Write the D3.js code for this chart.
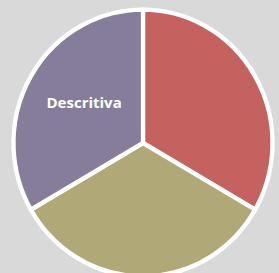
<!DOCTYPE html>
<html>
<head>
<meta charset="utf-8">
<script src="https://cdn.jsdelivr.net/npm/d3@7/dist/d3.min.js"></script>
<style>
  html, body { margin: 0; padding: 0; background: #d9d9d9; }
  svg { display: block; }
</style>
</head>
<body>
<svg width="279" height="273"></svg>
<script>
'use strict';

// slices, clockwise from 12 o'clock
var categories = ['A', 'B', 'Descritiva'];
var values = [1, 1, 1];
var labels = ['', '', 'Descritiva'];
var colors = ['#c4625f', '#b1a877', '#867d9a'];

var svg = d3.select('svg');
var width = 279, height = 273;

// the reference pie is a little taller than wide
var cx = 143, cy = 143, stretch = 1.03;
var radius = 129.5;

var data = categories.map(function(c, i) {
  return {name: c, value: values[i], label: labels[i], color: colors[i]};
});

var pie = d3.pie().sort(null).value(function(d) { return d.value; });
var arc = d3.arc().innerRadius(0).outerRadius(radius);
var labelArc = d3.arc().innerRadius(68).outerRadius(68);

var group = svg.append('g')
  .attr('transform', 'translate(' + cx + ',' + cy + ') scale(1,' + stretch + ')');

group.selectAll('path')
  .data(pie(data))
  .enter()
  .append('path')
  .attr('d', arc)
  .attr('fill', function(d) { return d.data.color; })
  .attr('stroke', '#fff')
  .attr('stroke-width', 4.3)
  .attr('stroke-linejoin', 'miter');

// labels outside the stretched group so text is not distorted
svg.append('g')
  .selectAll('text')
  .data(pie(data).filter(function(d) { return d.data.label; }))
  .enter()
  .append('text')
  .attr('x', function(d) { return cx + labelArc.centroid(d)[0]; })
  .attr('y', function(d) { return cy + labelArc.centroid(d)[1] * stretch; })
  .attr('text-anchor', 'middle')
  .style('font-family', '"Open Sans", sans-serif')
  .style('font-weight', 'bold')
  .style('font-size', '15px')
  .style('fill', '#fff')
  .text(function(d) { return d.data.label; });
</script>
</body>
</html>
